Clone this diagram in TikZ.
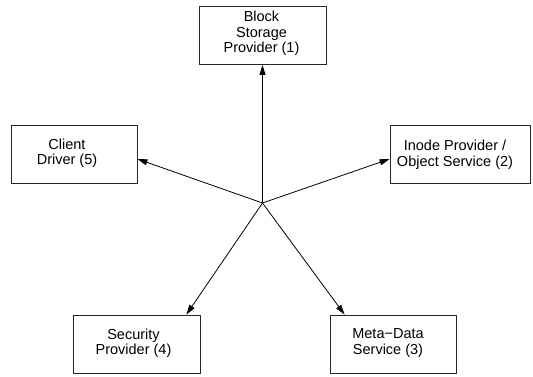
\documentclass[tikz,border=0pt]{standalone}
\usepackage{fontspec}
\setmainfont{Liberation Sans}
\usetikzlibrary{arrows.meta}
\begin{document}
\begin{tikzpicture}[x=1pt,y=-1pt,
  component/.style={draw=black!85, line width=0.8pt, minimum width=127pt, minimum height=58pt, inner sep=0pt},
  boxtext/.style={align=center, inner sep=0pt, font=\fontsize{14.5}{15.5}\selectfont},
  link/.style={line width=0.8pt, -{Triangle[length=10pt,width=6pt]}}]
  \useasboundingbox (0,0) rectangle (533,377);

  % components
  \node[component] (b1) at (262.5,35.5) {};
  \node[component, minimum width=126pt] (b5) at (74,154) {};
  \node[component, minimum width=140pt] (b2) at (460,154) {};
  \node[component, minimum width=126pt] (b3) at (393,344) {};
  \node[component] (b4) at (136.5,344) {};

  % component labels
  \node[boxtext] (t1) at ([xshift=-1pt,yshift=2pt]b1.center) {Block\\Storage\\Provider (1)};
  \node[boxtext] (t5) at ([xshift=-7pt,yshift=1pt]b5.center) {Client\\Driver (5)};
  \node[boxtext] (t2) at ([xshift=-5pt,yshift=-1pt]b2.center) {Inode Provider /\\Object Service (2)};
  \node[boxtext] (t3) at ([xshift=-5pt,yshift=1pt]b3.center) {Meta−Data\\Service (3)};
  \node[boxtext] (t4) at ([xshift=-3pt,yshift=1pt]b4.center) {Security\\Provider (4)};

  % hub and connectors
  \coordinate (hub) at (262.5,203);
  \draw[link] (hub) -- (b1.south);
  \draw[link] (hub) -- ([yshift=-5pt]b5.east);
  \draw[link] (hub) -- ([yshift=-5pt]b2.west);
  \draw[link] (hub) -- ([xshift=15pt]b3.north west);
  \draw[link] (hub) -- ([xshift=-14pt]b4.north east);
\end{tikzpicture}
\end{document}
